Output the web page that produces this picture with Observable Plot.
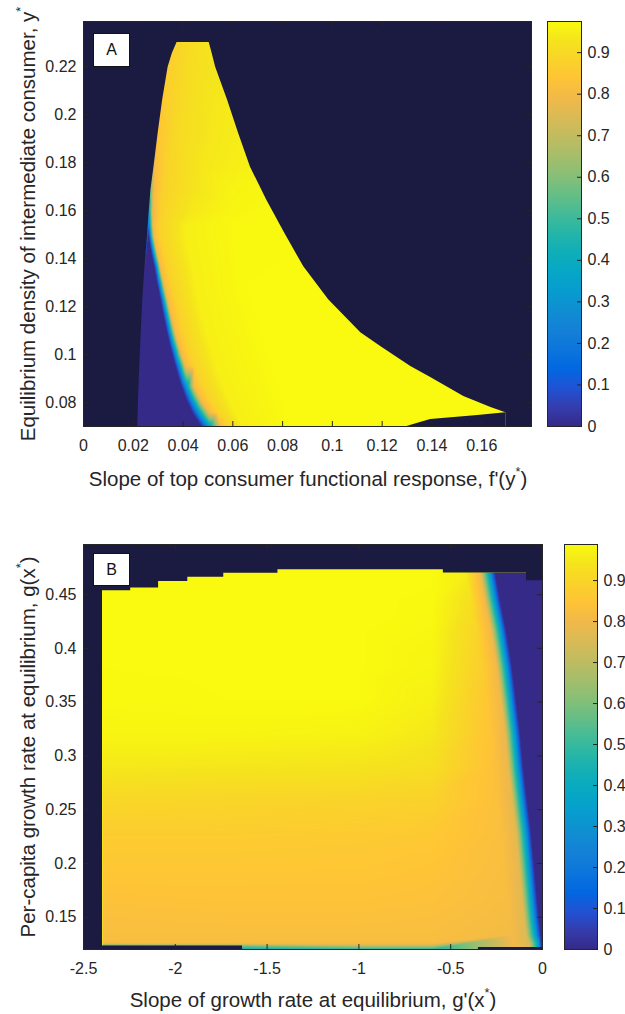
<!DOCTYPE html>
<html><head><meta charset="utf-8">
<script src="https://cdn.jsdelivr.net/npm/d3@7"></script>
<script src="https://cdn.jsdelivr.net/npm/@observablehq/plot@0.6"></script>
<style>
body{margin:0;background:#fff;}
#root{position:relative;width:625px;height:1014px;overflow:hidden;font-family:"Liberation Sans",Arial,Helvetica,sans-serif;color:#262626;background:#fff;}
.pos{position:absolute;}
.ttl{position:absolute;font-size:20.5px;white-space:nowrap;line-height:1;transform:translate(-50%,-50%);}
.ttl.rot{transform:translate(-50%,-50%) rotate(-90deg);}
.box{position:absolute;box-sizing:border-box;background:#fff;border:1px solid #111;font-size:16px;display:flex;align-items:center;justify-content:center;color:#111;}
.sup{font-size:0.62em;position:relative;top:-0.75em;}
</style></head><body><div id="root"></div>
<script>
// ---------------- Panel A data ----------------
const aXDomain = [0, 0.18];
const aYDomain = [0.07, 0.2387];
const aCMax = 0.975;
const aXTicks = [0, 0.02, 0.04, 0.06, 0.08, 0.1, 0.12, 0.14, 0.16];
const aYTicks = [0.08, 0.1, 0.12, 0.14, 0.16, 0.18, 0.2, 0.22];

// rows of the field: y level, x positions, values
const aRowY = [0.2300, 0.2254, 0.2196, 0.2059, 0.1922, 0.1780, 0.1685, 0.1631, 0.1581, 0.1535,
               0.1490, 0.1423, 0.1365, 0.1299, 0.1228, 0.1161, 0.1091, 0.1020, 0.0950, 0.0866,
               0.0812, 0.0758, 0.0700];
const aRowX = [
  [0.0376, 0.0438, 0.0505],
  [0.0357, 0.0430, 0.0517],
  [0.0340, 0.0430, 0.0531],
  [0.0318, 0.0390, 0.0490, 0.0579],
  [0.0300, 0.0370, 0.0511, 0.0623],
  [0.0283, 0.0330, 0.0470, 0.0671],
  [0.0271, 0.0283, 0.0322, 0.0450, 0.0591, 0.0704],
  [0.0267, 0.0279, 0.0314, 0.0438, 0.0599, 0.0740],
  [0.0263, 0.0277, 0.0314, 0.0430, 0.0591, 0.0762],
  [0.0261, 0.0267, 0.0279, 0.0306, 0.0410, 0.0611, 0.0792],
  [0.0257, 0.0263, 0.0271, 0.0283, 0.0310, 0.0410, 0.0631, 0.0816],
  [0.0252, 0.0273, 0.0283, 0.0296, 0.0324, 0.0424, 0.0625, 0.0852],
  [0.0247, 0.0285, 0.0296, 0.0308, 0.0338, 0.0436, 0.0631, 0.0885],
  [0.0243, 0.0296, 0.0308, 0.0322, 0.0353, 0.0449, 0.0650, 0.0925],
  [0.0238, 0.0310, 0.0322, 0.0338, 0.0370, 0.0458, 0.0671, 0.0985],
  [0.0236, 0.0322, 0.0336, 0.0352, 0.0386, 0.0476, 0.0690, 0.1045],
  [0.0232, 0.0336, 0.0350, 0.0368, 0.0402, 0.0490, 0.0712, 0.1114],
  [0.0229, 0.0352, 0.0368, 0.0388, 0.0422, 0.0513, 0.0730, 0.1210],
  [0.0226, 0.0370, 0.0388, 0.0410, 0.0446, 0.0531, 0.0752, 0.1315],
  [0.0224, 0.0394, 0.0416, 0.0444, 0.0480, 0.0561, 0.0782, 0.1456],
  [0.0221, 0.0414, 0.0438, 0.0470, 0.0507, 0.0583, 0.0792, 0.1548],
  [0.0220, 0.0438, 0.0466, 0.0505, 0.0539, 0.0607, 0.0808, 0.1697],
  [0.0218, 0.0474, 0.0507, 0.0551, 0.0583, 0.0639, 0.0832, 0.1800]
];
const aRowV = [
  [0.88, 0.91, 0.93],
  [0.875, 0.91, 0.93],
  [0.87, 0.91, 0.93],
  [0.86, 0.90, 0.93, 0.94],
  [0.84, 0.90, 0.935, 0.945],
  [0.80, 0.88, 0.935, 0.955],
  [0.60, 0.80, 0.88, 0.93, 0.96, 0.965],
  [0.45, 0.79, 0.88, 0.935, 0.962, 0.968],
  [0.30, 0.78, 0.88, 0.94, 0.965, 0.97],
  [0.12, 0.35, 0.80, 0.88, 0.95, 0.97, 0.97],
  [0.02, 0, 0.35, 0.80, 0.88, 0.95, 0.97, 0.97],
  [0, 0, 0.35, 0.80, 0.88, 0.95, 0.97, 0.972],
  [0, 0, 0.35, 0.80, 0.88, 0.95, 0.97, 0.972],
  [0, 0, 0.35, 0.80, 0.88, 0.95, 0.972, 0.972],
  [0, 0, 0.35, 0.80, 0.88, 0.95, 0.972, 0.972],
  [0, 0, 0.35, 0.80, 0.88, 0.95, 0.972, 0.972],
  [0, 0, 0.35, 0.80, 0.88, 0.95, 0.972, 0.972],
  [0, 0, 0.35, 0.80, 0.88, 0.95, 0.972, 0.972],
  [0, 0, 0.35, 0.80, 0.88, 0.95, 0.972, 0.972],
  [0, 0, 0.35, 0.80, 0.88, 0.95, 0.972, 0.972],
  [0, 0, 0.35, 0.80, 0.88, 0.95, 0.972, 0.972],
  [0, 0, 0.35, 0.80, 0.88, 0.95, 0.972, 0.972],
  [0, 0, 0.35, 0.80, 0.88, 0.95, 0.972, 0.972]
];
// edges of the computed region (outside is the dark background)
const aLeftY = [0.0700, 0.0812, 0.0950, 0.1091, 0.1228, 0.1365, 0.1490, 0.1581, 0.1685, 0.1780, 0.1922, 0.2059, 0.2196, 0.2254, 0.2300];
const aLeftX = [0.0218, 0.0221, 0.0226, 0.0232, 0.0238, 0.0247, 0.0257, 0.0263, 0.0271, 0.0283, 0.0300, 0.0318, 0.0340, 0.0357, 0.0376];
const aRightY = [0.0700, 0.0757, 0.0779, 0.0825, 0.0904, 0.0950, 0.1033, 0.1091, 0.1228, 0.1365, 0.1506, 0.1643, 0.1780, 0.1922, 0.2059, 0.2196, 0.2254, 0.2300];
const aRightX = [0.1697, 0.1697, 0.1637, 0.1528, 0.1395, 0.1315, 0.1194, 0.1114, 0.0985, 0.0885, 0.0808, 0.0736, 0.0671, 0.0623, 0.0579, 0.0531, 0.0517, 0.0505];
const aLowerX = [0.1300, 0.1340, 0.1395, 0.1584, 0.1697];
const aLowerY = [0.0700, 0.0712, 0.0729, 0.0746, 0.0757];
const aTopY = 0.2300;

// ---------------- Panel B data ----------------
const bXDomain = [-2.5, 0];
const bYDomain = [0.12, 0.4966];
const bCMax = 0.988;
const bXTicks = [-2.5, -2, -1.5, -1, -0.5, 0];
const bYTicks = [0.15, 0.2, 0.25, 0.3, 0.35, 0.4, 0.45];

const bRowY = [0.4704, 0.4444, 0.4165, 0.3822, 0.3515, 0.3208, 0.2892, 0.2586, 0.2279, 0.1963, 0.1656, 0.1470, 0.1331, 0.1257, 0.1235, 0.1200];
const bRowX = [
  [-2.398, -1.7, -1.0, -0.6, -0.419, -0.339, -0.289, -0.259, 0],
  [-2.398, -1.7, -1.0, -0.6, -0.392, -0.312, -0.262, -0.232, 0],
  [-2.398, -1.7, -1.0, -0.6, -0.359, -0.279, -0.229, -0.199, 0],
  [-2.398, -1.7, -1.0, -0.6, -0.327, -0.247, -0.197, -0.167, 0],
  [-2.398, -1.7, -1.0, -0.6, -0.305, -0.225, -0.175, -0.145, 0],
  [-2.398, -1.7, -1.0, -0.6, -0.283, -0.203, -0.153, -0.123, 0],
  [-2.398, -1.7, -1.0, -0.6, -0.266, -0.186, -0.136, -0.106, 0],
  [-2.398, -1.7, -1.0, -0.6, -0.245, -0.165, -0.115, -0.085, 0],
  [-2.398, -1.7, -1.0, -0.6, -0.223, -0.143, -0.093, -0.063, 0],
  [-2.398, -1.7, -1.0, -0.6, -0.206, -0.126, -0.076, -0.046, 0],
  [-2.398, -1.7, -1.0, -0.6, -0.190, -0.110, -0.060, -0.030, 0],
  [-2.398, -1.7, -1.0, -0.6, -0.179, -0.099, -0.049, -0.019, 0],
  [-2.398, -1.7, -1.0, -0.6, -0.168, -0.088, -0.038, -0.010, 0],
  [-2.398, -1.7, -1.0, -0.6, -0.152, -0.072, -0.022, -0.006, 0],
  [-2.398, -1.7, -1.0, -0.6, -0.150, -0.070, -0.020, -0.005, 0],
  [-2.398, -1.7, -1.0, -0.6, -0.145, -0.065, -0.015, -0.004, 0]
];
const bRowV = [
  [0.985, 0.986, 0.986, 0.986, 0.96, 0.80, 0.35, 0, 0],
  [0.985, 0.986, 0.986, 0.984, 0.93, 0.80, 0.35, 0, 0],
  [0.985, 0.986, 0.986, 0.980, 0.90, 0.80, 0.35, 0, 0],
  [0.985, 0.986, 0.986, 0.975, 0.88, 0.80, 0.35, 0, 0],
  [0.983, 0.985, 0.985, 0.965, 0.86, 0.80, 0.35, 0, 0],
  [0.975, 0.975, 0.970, 0.950, 0.85, 0.79, 0.35, 0, 0],
  [0.950, 0.945, 0.940, 0.925, 0.84, 0.79, 0.35, 0, 0],
  [0.905, 0.900, 0.895, 0.890, 0.835, 0.78, 0.35, 0, 0],
  [0.875, 0.875, 0.870, 0.865, 0.83, 0.78, 0.35, 0, 0],
  [0.860, 0.860, 0.858, 0.850, 0.825, 0.775, 0.35, 0, 0],
  [0.840, 0.845, 0.845, 0.840, 0.82, 0.77, 0.35, 0, 0],
  [0.830, 0.835, 0.835, 0.830, 0.815, 0.77, 0.35, 0, 0],
  [0.825, 0.825, 0.825, 0.825, 0.81, 0.76, 0.35, 0, 0],
  [0.820, 0.820, 0.820, 0.820, 0.805, 0.75, 0.35, 0, 0],
  [0.50, 0.60, 0.72, 0.72, 0.80, 0.75, 0.30, 0, 0],
  [0.30, 0.40, 0.45, 0.45, 0.80, 0.75, 0.30, 0, 0]
];
const bLeftX = -2.398;
const bTopX = [-2.398, -2.243, -2.091, -1.932, -1.736, -1.441, -0.540, -0.087, 0];
const bTopY = [0.4537, 0.4562, 0.4621, 0.4661, 0.4698, 0.4732, 0.4700, 0.4630, 0.4630];
const bBottomX = [-2.398, -1.634, -0.349, 0];
const bBottomY = [0.1233, 0.1200, 0.1218, 0.1218];

const cbTicks = [0, 0.1, 0.2, 0.3, 0.4, 0.5, 0.6, 0.7, 0.8, 0.9];

// parula colormap (MATLAB R2014b), every third of 64 entries
const parula = ["#352a87","#353dad","#2053d4","#0268e1","#0d75dc","#1481d6","#108ed2","#079ccf","#06a7c6","#0faeb9","#25b5a9","#42bb98","#65be86","#87bf77","#a5be6b","#c0bc60","#d9ba56","#f1b94a","#ffc337","#fad32a","#f5e41d","#f9fb0e"];
const parulaPiece = d3.piecewise(d3.interpolateRgb, parula);
const parulaInterp = t => parulaPiece(Math.max(0, Math.min(1, t)));

// ---------------- helpers ----------------
const NAVY = "#1b1a40";
const INK = "#262626";
const FONT = '"Liberation Sans", Arial, Helvetica, sans-serif';
const fmt = d => String(+(+d).toFixed(2));
const rows = (Y, X, V) => Y.flatMap((y, i) => X[i].map((x, j) => ({x, y, v: V[i][j]})));
const pts = (X, Y) => X.map((x, i) => ({x, y: Y[i]}));

const aSamples = rows(aRowY, aRowX, aRowV);
const bSamples = rows(bRowY, bRowX, bRowV);

// mask outlines, extended to the frame edges so neighbouring masks overlap
const aLeftPts = pts(aLeftX, aLeftY).concat([{x: aLeftX[aLeftX.length - 1], y: aYDomain[1]}]);
const aRightPts = pts(aRightX, aRightY).concat([{x: aRightX[aRightX.length - 1], y: aYDomain[1]}]);
const bTopPts = [{x: bXDomain[0], y: bTopY[0]}].concat(pts(bTopX, bTopY));
const bBottomPts = [{x: bXDomain[0], y: bBottomY[0]}].concat(pts(bBottomX, bBottomY));

const root = document.getElementById("root");
function place(node, left, top) {
  const d = document.createElement("div");
  d.className = "pos";
  d.style.left = left + "px"; d.style.top = top + "px";
  d.appendChild(node);
  root.appendChild(d);
}
function html(cls, left, top, inner, extra) {
  const d = document.createElement("div");
  d.className = cls;
  d.style.left = left + "px"; d.style.top = top + "px";
  if (extra) Object.assign(d.style, extra);
  d.innerHTML = inner;
  root.appendChild(d);
}
const baseStyle = {fontFamily: FONT, fontSize: "16px", color: INK, background: "transparent", overflow: "visible"};

function innerTicks(xt, yt, pw, ph, len) {
  return [
    Plot.tickX(xt, {x: d => d, insetTop: ph - len, stroke: INK}),
    Plot.tickX(xt, {x: d => d, insetBottom: ph - len, stroke: INK}),
    Plot.tickY(yt, {y: d => d, insetRight: pw - len, stroke: INK}),
    Plot.tickY(yt, {y: d => d, insetLeft: pw - len, stroke: INK})
  ];
}

// ---------------- Panel A ----------------
const A = {W: 540, H: 470, ml: 83, mr: 9, mt: 21, mb: 44};
const aPW = A.W - A.ml - A.mr, aPH = A.H - A.mt - A.mb;
const plotA = Plot.plot({
  width: A.W, height: A.H,
  marginLeft: A.ml, marginRight: A.mr, marginTop: A.mt, marginBottom: A.mb,
  style: baseStyle,
  x: {domain: aXDomain, ticks: aXTicks, tickFormat: fmt, tickSize: 0, tickPadding: 13, label: null},
  y: {domain: aYDomain, ticks: aYTicks, tickFormat: fmt, tickSize: 0, tickPadding: 7, label: null},
  color: {type: "linear", domain: [0, aCMax], interpolate: parulaInterp},
  marks: [
    Plot.raster(aSamples, {x: "x", y: "y", fill: "v", interpolate: "barycentric",
      x1: aXDomain[0], x2: aXDomain[1], y1: aYDomain[0], y2: aYDomain[1]}),
    Plot.rect([aTopY], {x1: aXDomain[0], x2: aXDomain[1], y1: d => d, y2: aYDomain[1], fill: NAVY, shapeRendering: "crispEdges"}),
    Plot.areaX(aLeftPts, {y: "y", x1: aXDomain[0], x2: "x", fill: NAVY}),
    Plot.areaX(aRightPts, {y: "y", x1: "x", x2: aXDomain[1], fill: NAVY}),
    Plot.areaY(pts(aLowerX, aLowerY), {x: "x", y1: aYDomain[0], y2: "y", fill: NAVY}),
    ...innerTicks(aXTicks, aYTicks, aPW, aPH, 5),
    Plot.frame({stroke: INK})
  ]
});
place(plotA, 0, 0);

const CA = {W: 85, H: 470, ml: 7, mr: 44, mt: 21, mb: 44};
const cbA = Plot.plot({
  width: CA.W, height: CA.H,
  marginLeft: CA.ml, marginRight: CA.mr, marginTop: CA.mt, marginBottom: CA.mb,
  style: baseStyle,
  x: {domain: [0, 1], axis: null},
  y: {domain: [0, aCMax], ticks: cbTicks, tickFormat: fmt, axis: "right", tickSize: 0, tickPadding: 6, label: null},
  color: {type: "linear", domain: [0, aCMax], interpolate: parulaInterp},
  marks: [
    Plot.raster({x1: 0, x2: 1, y1: 0, y2: aCMax, fill: (x, y) => y}),
    Plot.tickY(cbTicks, {y: d => d, insetLeft: CA.W - CA.ml - CA.mr - 4, stroke: INK}),
    Plot.frame({stroke: INK})
  ]
});
place(cbA, 540, 0);

// ---------------- Panel B ----------------
const B = {W: 550, H: 514, ml: 83, mr: 8, mt: 44, mb: 65};
const bPW = B.W - B.ml - B.mr, bPH = B.H - B.mt - B.mb;
const plotB = Plot.plot({
  width: B.W, height: B.H,
  marginLeft: B.ml, marginRight: B.mr, marginTop: B.mt, marginBottom: B.mb,
  style: baseStyle,
  x: {domain: bXDomain, ticks: bXTicks, tickFormat: fmt, tickSize: 0, tickPadding: 13, label: null},
  y: {domain: bYDomain, ticks: bYTicks, tickFormat: fmt, tickSize: 0, tickPadding: 7, label: null},
  color: {type: "linear", domain: [0, bCMax], interpolate: parulaInterp},
  marks: [
    Plot.raster(bSamples, {x: "x", y: "y", fill: "v", interpolate: "barycentric",
      x1: bXDomain[0], x2: bXDomain[1], y1: bYDomain[0], y2: bYDomain[1]}),
    Plot.rect([bLeftX], {x1: bXDomain[0], x2: d => d, y1: bYDomain[0], y2: bYDomain[1], fill: NAVY, shapeRendering: "crispEdges"}),
    Plot.areaY(bTopPts, {x: "x", y1: "y", y2: bYDomain[1], curve: "step-after", fill: NAVY}),
    Plot.areaY(bBottomPts, {x: "x", y1: bYDomain[0], y2: "y", curve: "step-after", fill: NAVY}),
    ...innerTicks(bXTicks, bYTicks, bPW, bPH, 5),
    Plot.frame({stroke: INK})
  ]
});
place(plotB, 0, 500);

const CB = {W: 70, H: 514, ml: 9, mr: 28, mt: 44, mb: 65};
const cbB = Plot.plot({
  width: CB.W, height: CB.H,
  marginLeft: CB.ml, marginRight: CB.mr, marginTop: CB.mt, marginBottom: CB.mb,
  style: baseStyle,
  x: {domain: [0, 1], axis: null},
  y: {domain: [0, bCMax], ticks: cbTicks, tickFormat: fmt, axis: "right", tickSize: 0, tickPadding: 6, label: null},
  color: {type: "linear", domain: [0, bCMax], interpolate: parulaInterp},
  marks: [
    Plot.raster({x1: 0, x2: 1, y1: 0, y2: bCMax, fill: (x, y) => y}),
    Plot.tickY(cbTicks, {y: d => d, insetLeft: CB.W - CB.ml - CB.mr - 4, stroke: INK}),
    Plot.frame({stroke: INK})
  ]
});
place(cbB, 555, 500);

// ---------------- titles & panel labels ----------------
html("ttl", 308, 479, "Slope of top consumer functional response, f'(y<span class='sup'>*</span>)");
html("ttl rot", 28, 224, "Equilibrium density of intermediate consumer, y<span class='sup'>*</span>");
html("ttl", 313, 1000, "Slope of growth rate at equilibrium, g'(x<span class='sup'>*</span>)");
html("ttl rot", 28, 747, "Per-capita growth rate at equilibrium, g(x<span class='sup'>*</span>)");
html("box", 93, 33, "A", {width: "37px", height: "34px"});
html("box", 93, 553, "B", {width: "37px", height: "33px"});
</script></body></html>
